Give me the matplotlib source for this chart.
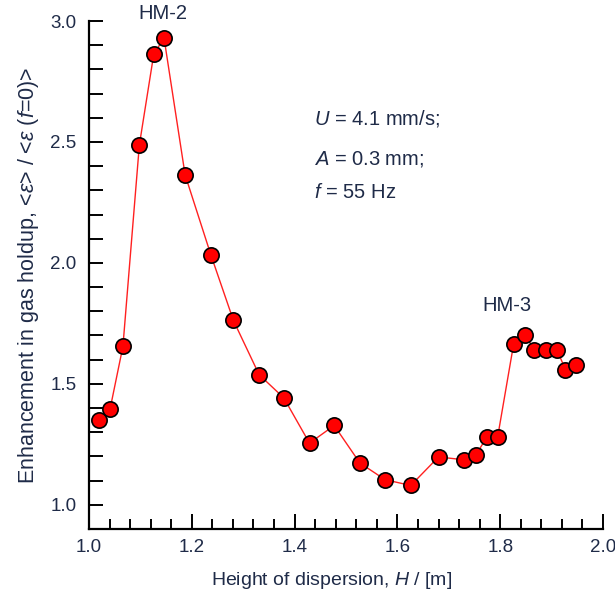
import matplotlib
matplotlib.use("Agg")
import matplotlib.pyplot as plt
from matplotlib.ticker import MultipleLocator

# Height of dispersion H [m] and gas-holdup enhancement ratio
height = [1.0195, 1.041, 1.066, 1.098, 1.126, 1.146, 1.187, 1.237, 1.281,
          1.331, 1.379, 1.429, 1.477, 1.527, 1.576, 1.626, 1.680, 1.730,
          1.752, 1.774, 1.795, 1.826, 1.848, 1.866, 1.889, 1.910, 1.927,
          1.947]
enhancement = [1.352, 1.396, 1.655, 2.488, 2.863, 2.930, 2.364, 2.034, 1.762,
               1.538, 1.442, 1.255, 1.328, 1.173, 1.104, 1.080, 1.198, 1.186,
               1.204, 1.280, 1.280, 1.663, 1.704, 1.642, 1.642, 1.642, 1.559,
               1.580]

x_ticks = [1.0, 1.2, 1.4, 1.6, 1.8, 2.0]
y_ticks = [1.0, 1.5, 2.0, 2.5, 3.0]
conditions = [r"$U$ = 4.1 mm/s;", r"$A$ = 0.3 mm;", r"$f$ = 55 Hz"]

plt.rcParams["font.family"] = ["Liberation Sans", "DejaVu Sans"]
plt.rcParams["mathtext.fontset"] = "custom"
plt.rcParams["mathtext.rm"] = "Liberation Sans"
plt.rcParams["mathtext.it"] = "Liberation Sans:italic"

text_color = "#1f2b48"

fig = plt.figure(figsize=(6.15, 5.94), dpi=100)
ax = fig.add_axes([0.1447, 0.1094, 0.8358, 0.8552])

ax.plot(height, enhancement, color="#ff2020", lw=1.0, marker="o",
        markersize=11, markerfacecolor="#ff0000", markeredgecolor="black",
        markeredgewidth=1.2, zorder=3)

ax.set_xlim(1.0, 2.0)
ax.set_ylim(0.9, 3.0)
ax.set_xticks(x_ticks)
ax.set_yticks(y_ticks)
ax.xaxis.set_minor_locator(MultipleLocator(0.04))
ax.yaxis.set_minor_locator(MultipleLocator(0.1))

for side in ("top", "right"):
    ax.spines[side].set_visible(False)
for side in ("left", "bottom"):
    ax.spines[side].set_linewidth(1.6)

ax.tick_params(which="both", direction="in", width=1.4, colors="black",
               labelcolor=text_color, labelsize=13.5)
ax.tick_params(axis="x", which="major", length=11, pad=7)
ax.tick_params(axis="x", which="minor", length=7)
ax.tick_params(axis="y", which="major", length=10, pad=9)
ax.tick_params(axis="y", which="minor", length=10)

ax.set_xlabel(r"Height of dispersion, $H$ / [m]", fontsize=14,
              color=text_color)
ax.xaxis.set_label_coords(0.471, -0.081)
ax.set_ylabel(r"Enhancement in gas holdup, <$\varepsilon$> / <$\varepsilon$ ($f$=0)>",
              fontsize=15.5, color=text_color, labelpad=7)

ax.text(1.144, 3.033, "HM-2", fontsize=14.5, color=text_color,
        ha="center", va="center")
ax.text(1.813, 1.825, "HM-3", fontsize=14.5, color=text_color,
        ha="center", va="center")

for i, line in enumerate(conditions):
    ax.text(1.437, [2.595, 2.43, 2.29][i], line, fontsize=14.5,
            color=text_color, ha="left", va="center")

fig.savefig("out.png", dpi=100)
